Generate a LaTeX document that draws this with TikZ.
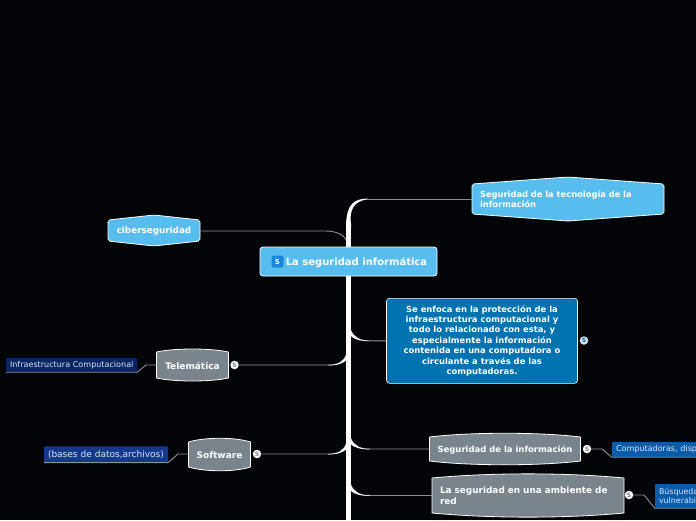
\documentclass[tikz,border=0pt]{standalone}
\usepackage{fontspec}
\setmainfont{DejaVu Sans}
\definecolor{bgc}{HTML}{030508}
\definecolor{sky}{HTML}{56BDEE}
\definecolor{deep}{HTML}{0073B0}
\definecolor{slate}{HTML}{7A848C}
\definecolor{linec}{HTML}{8C9094}
\definecolor{leafa}{HTML}{0A5BA8}
\definecolor{leafb}{HTML}{0A2463}
\definecolor{leafc}{HTML}{14388C}
\definecolor{leaft}{HTML}{D8E6F5}
\definecolor{icob}{HTML}{1A86D8}
\tikzset{
 x=1pt,y=-1pt,
 shapeline/.style={draw=white,line width=0.8pt,line join=round},
 label/.style={inner sep=0pt,text=white,font=\bfseries\fontsize{9}{10.5}\selectfont,align=center},
 leftlabel/.style={label,align=left,inner xsep=8pt,text width=176pt},
 leaf/.style={inner ysep=0pt,inner xsep=4pt,text=leaft,font=\fontsize{8.05}{9.6}\selectfont,align=left,rounded corners=1pt},
 conn/.style={draw=linec,line width=0.9pt},
 flare/.style={fill=white,draw=none},
 dot/.style={circle,inner sep=0pt,minimum size=8.5pt,fill=white,text=slate,font=\bfseries\fontsize{6}{6}\selectfont},
 iconbox/.style={fill=icob,rounded corners=1.5pt,minimum size=12pt,inner sep=0pt,text=white,font=\bfseries\fontsize{7}{7}\selectfont},
}
\newcommand{\leftflare}[1]{\fill[flare] (328,#1) .. controls (338,#1) and (344,#1-3) .. (346.5,#1-11) -- (346.5,#1-5) .. controls (343,#1-1.5) and (338,#1+0.4) .. (328,#1+0.4) -- cycle;}
\newcommand{\rightflare}[1]{\fill[flare] (370,#1) .. controls (360,#1) and (354,#1-3) .. (350.5,#1-11) -- (350.5,#1-5) .. controls (354,#1-1.5) and (360,#1+0.4) .. (370,#1+0.4) -- cycle;}
\begin{document}
\begin{tikzpicture}
\useasboundingbox (0,0) rectangle (696,520);
\clip (0,0) rectangle (696,520);
\fill[bgc] (0,0) rectangle (696,520);

% node outlines
\draw[shapeline,fill=sky,rounded corners=2pt] (472,184)--(568,177)--(664,184)--(664,214)--(568,221)--(472,214)--cycle;
\draw[shapeline,fill=sky,rounded corners=2pt] (108,220)--(154,215)--(200,220)--(200,241)--(154,246)--(108,241)--cycle;
\draw[shapeline,fill=slate] (429.5,437) .. controls (470,432) and (540,432) .. (580.5,437) -- (580.5,461) .. controls (540,466) and (470,466) .. (429.5,461) -- cycle;
\draw[shapeline,fill=slate] (432,478) .. controls (490,472.5) and (566,472.5) .. (624,478) -- (624,513) .. controls (566,518.5) and (490,518.5) .. (432,513) -- cycle;
\draw[shapeline,fill=slate] (156.5,352) .. controls (175,348) and (210,348) .. (228.5,352) -- (228.5,378) .. controls (210,382) and (175,382) .. (156.5,378) -- cycle;
\draw[shapeline,fill=slate] (188.5,442) .. controls (205,437) and (235,437) .. (250.5,442) -- (250.5,467) .. controls (235,472) and (205,472) .. (188.5,467) -- cycle;

% nodes
\node[leftlabel,font=\bfseries\fontsize{8.35}{10.5}\selectfont] (tec) at (568,199) {Seguridad de la tecnología de la\\información};
\node[label,minimum width=92pt,font=\bfseries\fontsize{8.8}{10.5}\selectfont] (cib) at (154,231.6) {ciberseguridad};
\node[label,minimum width=191pt,minimum height=85pt,fill=deep,draw=white,line width=0.6pt,rounded corners=3pt,font=\bfseries\fontsize{8.4}{10.4}\selectfont] (enf) at (482,340.8) {Se enfoca en la protección de la\\infraestructura computacional y\\todo lo relacionado con esta, y\\especialmente la información\\contenida en una computadora o\\circulante a través de las\\computadoras.};
\node[label,minimum width=152pt,font=\bfseries\fontsize{8.45}{10.5}\selectfont] (inf) at (505,449.6) {Seguridad de la información};
\node[leftlabel,font=\bfseries\fontsize{8.9}{11}\selectfont] (red) at (528,495.5) {La seguridad en una ambiente de\\red};
\node[label,minimum width=72pt] (tel) at (192.5,365.6) {Telemática};
\node[label,minimum width=62pt] (sof) at (219.5,455) {Software};
\node[leaf,fill=leafa,text width=80pt,minimum height=15pt] (la) at (656,449.5) {\mbox{Computadoras, disp}};
\node[leaf,fill=leafa,text width=37pt,minimum height=24pt,font=\fontsize{7.9}{9.6}\selectfont] (lb) at (677.5,496) {\mbox{Búsqueda}\\\mbox{vulnerabi}};
\node[leaf,fill=leafb,text width=123pt,minimum height=14pt] (lc) at (71.5,365) {\mbox{Infraestructura Computacional}};
\node[leaf,fill=leafc,text width=116pt,minimum height=16pt,font=\fontsize{9}{10}\selectfont] (ld) at (106,454.4) {\mbox{(bases de datos,archivos)}};

% icons
\node[dot,fill=leaft,text=deep] (ienf) at (584,340.5) {S};
\node[dot] (iinf) at (587,449) {S};
\node[dot] (ired) at (629,495) {S};
\node[dot] (itel) at (234.5,365) {S};
\node[dot] (isof) at (257,454) {S};

% connector bends
\coordinate (ka) at (602,449);
\coordinate (kd) at (644,495);
\coordinate (kg) at (146,365);
\coordinate (kj) at (178,454);
\coordinate (tt) at (368,199);
\coordinate (up) at (348.5,226);
\coordinate (dn) at (348.5,520);

% connectors
\draw[conn] (tec.west) -- (tt);
\draw[conn] (cib.east |- 0,231) -- (325,231) .. controls (337,231) and (344,235) .. (347,241);
\draw[conn] (enf.west) -- (370,340.8) .. controls (360,340.8) and (354,337.8) .. (350.5,329.8);
\draw[conn] (inf.west |- 0,449) -- (370,449) .. controls (360,449) and (354,446) .. (350.5,438);
\draw[conn] (red.west) -- (370,495.5) .. controls (360,495.5) and (354,492.5) .. (350.5,484.5);
\draw[conn] (itel) -- (328,365) .. controls (338,365) and (344,362) .. (346.5,354);
\draw[conn] (isof) -- (328,454) .. controls (338,454) and (344,451) .. (346.5,443);
\draw[conn] (iinf) -- (ka) -- (la.south west) -- (la.south east);
\draw[conn] (ired) -- (kd) -- (lb.south west) -- (lb.south east);
\draw[conn] (tel.west |- 0,365) -- (kg) -- (lc.south east) -- (lc.south west);
\draw[conn] (sof.west |- 0,454) -- (kj) -- (ld.south east) -- (ld.south west);

% trunk and flares
\fill[flare] (368,198.6) .. controls (354,198.6) and (347,204) .. (346,224) -- (346,228) -- (351,228) -- (351,224) .. controls (349.5,212) and (352,201) .. (368,199.4) -- cycle;
\draw[line width=5pt,white] (up) -- (dn);
\leftflare{365}
\leftflare{454}
\rightflare{340.8}
\rightflare{449}
\rightflare{495.5}

% root over the trunk
\node[label,minimum width=177pt,minimum height=29pt,fill=sky,draw=white,line width=0.8pt,rounded corners=3pt,font=\bfseries\fontsize{10}{12}\selectfont,text depth=0pt,inner xsep=0pt] (root) at (348.5,261.5) {\hspace*{16pt}La seguridad informática};
\node[iconbox] (ico) at (277.5,261.5) {S};
\end{tikzpicture}
\end{document}
